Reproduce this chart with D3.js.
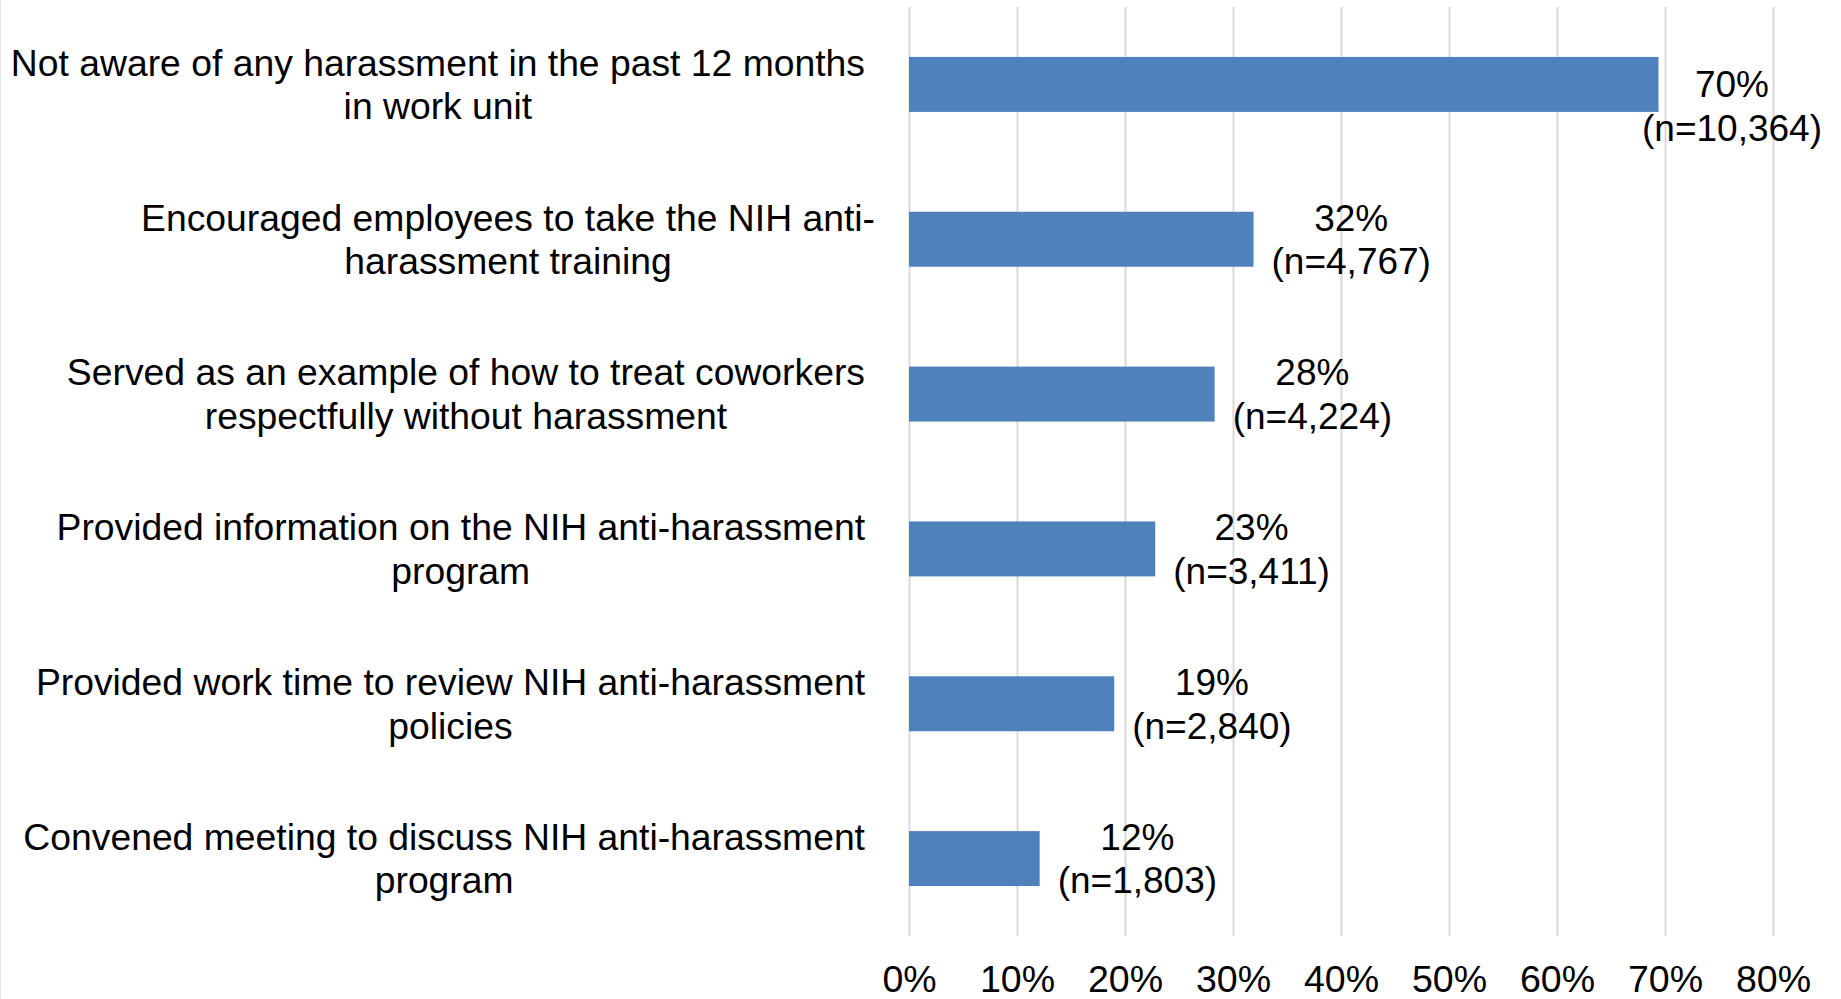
<!DOCTYPE html>
<html>
<head>
<meta charset="utf-8">
<script src="https://cdn.jsdelivr.net/npm/d3@7"></script>
<style>
  html, body { margin: 0; padding: 0; background: #ffffff; }
  svg { display: block; }
  text { font-family: "Liberation Sans", Arial, sans-serif; fill: #000; }
</style>
</head>
<body>
<svg id="chart" width="1841" height="999"></svg>
<script>
// ---- data ----
const categories = [
  "Not aware of any harassment in the past 12 months in work unit",
  "Encouraged employees to take the NIH anti-harassment training",
  "Served as an example of how to treat coworkers respectfully without harassment",
  "Provided information on the NIH anti-harassment program",
  "Provided work time to review NIH anti-harassment policies",
  "Convened meeting to discuss NIH anti-harassment program"
];
const categoryLines = [
  ["Not aware of any harassment in the past 12 months", "in work unit"],
  ["Encouraged employees to take the NIH anti-", "harassment training"],
  ["Served as an example of how to treat coworkers", "respectfully without harassment"],
  ["Provided information on the NIH anti-harassment", "program"],
  ["Provided work time to review NIH anti-harassment", "policies"],
  ["Convened meeting to discuss NIH anti-harassment", "program"]
];
const values = [69.4, 31.9, 28.3, 22.8, 19.0, 12.1];
const pctLabels = ["70%", "32%", "28%", "23%", "19%", "12%"];
const nLabels = ["(n=10,364)", "(n=4,767)", "(n=4,224)", "(n=3,411)", "(n=2,840)", "(n=1,803)"];
const xTicks = [0, 10, 20, 30, 40, 50, 60, 70, 80];
const xTickLabels = ["0%", "10%", "20%", "30%", "40%", "50%", "60%", "70%", "80%"];

// ---- layout ----
const W = 1841, H = 999;
const FS_CAT = 37.3;
const FS_DL = 37;
const FS_TICK = 37.5;
const plot = { left: 909, right: 1773, top: 7, bottom: 936 };
const barColor = "#4f81bd";
const gridColor = "#d9d9d9";

const svg = d3.select("#chart");

const x = d3.scaleLinear().domain([0, 80]).range([plot.left, plot.right]);
const y = d3.scaleBand().domain(categories).range([plot.top, plot.bottom])
  .paddingInner(0.645).paddingOuter(0.3225);

// left border line
svg.append("line")
  .attr("x1", 0.5).attr("x2", 0.5).attr("y1", 0).attr("y2", H)
  .attr("stroke", "#e6e6e6").attr("stroke-width", 1);

// gridlines (via axis)
const gridAxis = d3.axisBottom(x).tickValues(xTicks)
  .tickSize(-(plot.bottom - plot.top)).tickFormat("");
const gg = svg.append("g")
  .attr("transform", `translate(0,${plot.bottom})`)
  .call(gridAxis);
gg.select(".domain").remove();
gg.selectAll(".tick line").attr("stroke", gridColor).attr("stroke-width", 2);

// x tick labels (via axis)
const labelAxis = d3.axisBottom(x).tickValues(xTicks).tickSize(0)
  .tickFormat((d, i) => xTickLabels[i]);
const lg = svg.append("g")
  .attr("transform", `translate(0,${plot.bottom})`)
  .call(labelAxis);
lg.select(".domain").remove();
lg.selectAll(".tick text")
  .attr("font-size", FS_TICK)
  .attr("font-family", '"Liberation Sans", Arial, sans-serif')
  .attr("fill", "#000")
  .attr("dy", null)
  .attr("y", 56);

// bars
svg.append("g").selectAll("rect")
  .data(categories)
  .join("rect")
  .attr("x", x(0))
  .attr("y", d => y(d))
  .attr("width", (d, i) => x(values[i]) - x(0))
  .attr("height", y.bandwidth())
  .attr("fill", barColor);

// category labels
const catG = svg.append("g");
const lineGap = 43.5;
categories.forEach((c, i) => {
  const lines = categoryLines[i];
  const cy = y(c) + y.bandwidth() / 2;
  const g = catG.append("g");
  const texts = lines.map((ln, j) => g.append("text")
    .attr("font-size", FS_CAT)
    .attr("text-anchor", "middle")
    .attr("y", cy + (j - (lines.length - 1) / 2) * lineGap + 13)
    .text(ln));
  const widths = texts.map(t => t.node().getComputedTextLength());
  const maxW = d3.max(widths);
  const widest = lines[widths.indexOf(maxW)];
  const R = widest.endsWith("-") ? 875 : 865;
  const cx = R - maxW / 2;
  texts.forEach(t => t.attr("x", cx));
});

// data labels
const dlG = svg.append("g");
categories.forEach((c, i) => {
  let cy = y(c) + y.bandwidth() / 2;
  const g = dlG.append("g");
  const t1 = g.append("text").attr("font-size", FS_DL).attr("text-anchor", "middle")
    .text(pctLabels[i]);
  const t2 = g.append("text").attr("font-size", FS_DL).attr("text-anchor", "middle")
    .text(nLabels[i]);
  const w = Math.max(t1.node().getComputedTextLength(), t2.node().getComputedTextLength());
  let left = x(values[i]) + 18;
  if (left + w > 1822) {
    // label box pushed back over the bar end: it is also nudged down
    left = 1822 - w;
    cy += lineGap / 2;
  }
  const cx = left + w / 2;
  t1.attr("x", cx).attr("y", cy - lineGap / 2 + 13);
  t2.attr("x", cx).attr("y", cy + lineGap / 2 + 13);
});
</script>
</body>
</html>
